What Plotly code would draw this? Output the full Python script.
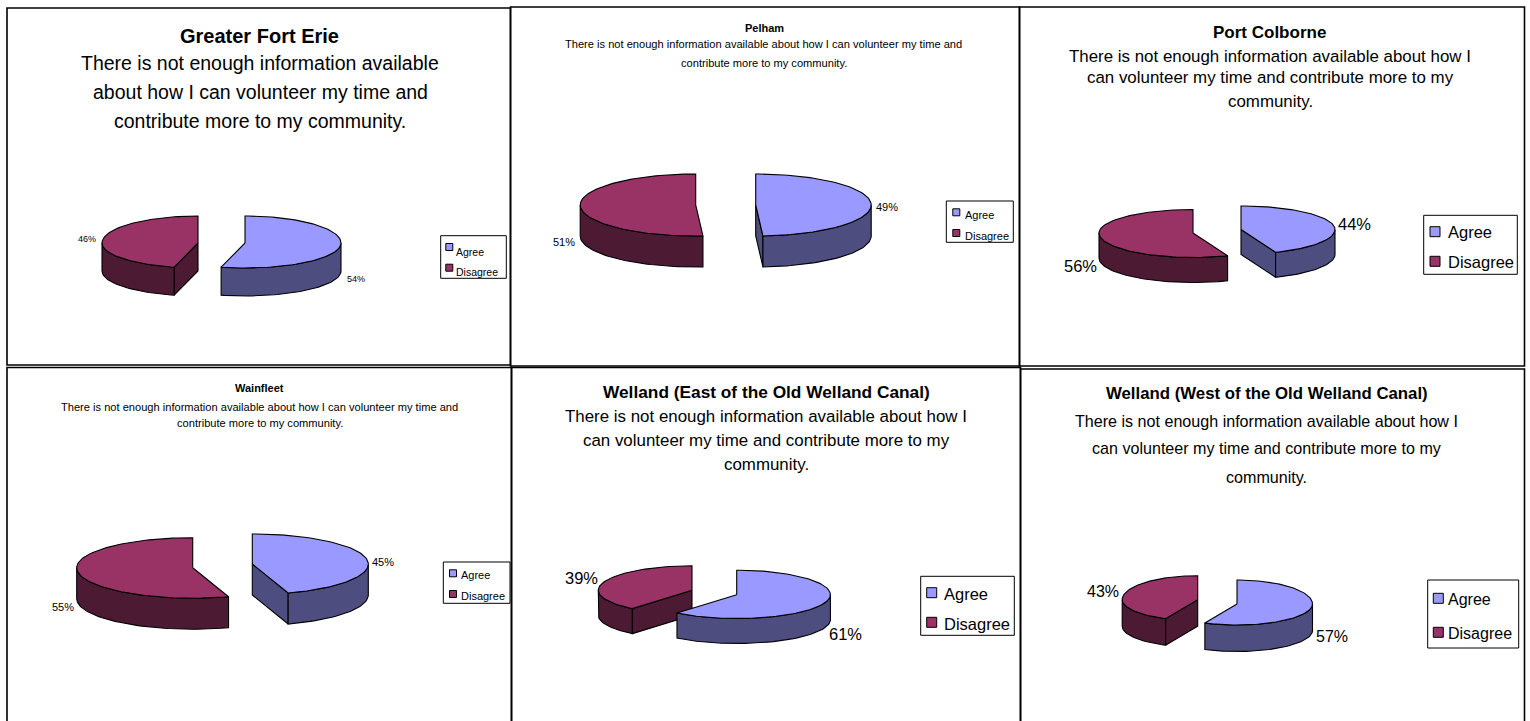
import math
import plotly.graph_objects as go

# ---- values ----
places = ["Greater Fort Erie", "Pelham", "Port Colborne", "Wainfleet",
          "Welland (East of the Old Welland Canal)", "Welland (West of the Old Welland Canal)"]
categories = ["Agree", "Disagree"]
agree = [54, 49, 44, 45, 61, 57]
disagree = [46, 51, 56, 55, 39, 43]
question_lines = [
    ["There is not enough information available", "about how I can volunteer my time and", "contribute more to my community."],
    ["There is not enough information available about how I can volunteer my time and", "contribute more to my community."],
    ["There is not enough information available about how I", "can volunteer my time and contribute more to my", "community."],
    ["There is not enough information available about how I can volunteer my time and", "contribute more to my community."],
    ["There is not enough information available about how I", "can volunteer my time and contribute more to my", "community."],
    ["There is not enough information available about how I", "can volunteer my time and contribute more to my", "community."],
]

# ---- styles and layout ----
TOP = {"Agree": "#9999FF", "Disagree": "#993366"}
SIDE = {"Agree": "#4D4D80", "Disagree": "#4D1A33"}
FONT = "Liberation Sans, Arial, sans-serif"
W, H = 1530, 721

frames = [(7, 8, 510.5, 365), (510.5, 7, 1019.5, 366), (1019.5, 7, 1524.5, 366),
          (7, 367.5, 511.5, 730), (511.5, 367.5, 1020.5, 730), (1020.5, 369, 1524.5, 730)]
# agree centre x,y; disagree centre x,y; rx; back ry; front ry; depth
pies = [(245, 243, 198, 243, 96, 27, 25, 28),
        (755.7, 205, 695.7, 205, 115.5, 31, 31, 31),
        (1241, 229.5, 1193, 233, 94, 23.5, 24.5, 25),
        (252.3, 564, 192.7, 567.7, 116, 30, 30.5, 31),
        (736.7, 594.7, 692, 590.3, 93.7, 24.5, 23.8, 25),
        (1237, 604, 1197.7, 599.7, 75.5, 24, 21, 26.5)]
title_style = [(259.3, 35.7, 20), (764, 28.3, 11), (1269, 32.3, 17),
               (259, 388.3, 11), (766.7, 392.3, 17.3), (1267.3, 393.3, 16.8)]
line_x = [260, 763.7, 1270, 259.7, 766, 1266.7]
line_y = [[62.7, 91.7, 120.7], [44.3, 63.3], [56, 77.7, 101.7],
          [407.3, 423.3], [416, 440.3, 464.7], [420.7, 448, 477]]
line_size = [19.5, 11.1, 16.9, 11.1, 16.9, 16.1]
label_pos = [((355.7, 279.3), (86.7, 239.3)), ((887.3, 207.3), (564.3, 242.3)),
             ((1354.7, 224.3), (1080, 266)), ((383.3, 562), (63.3, 607.3)),
             ((845, 634.3), (581.3, 578.3)), ((1332.3, 636.7), (1103, 591))]
label_size = [9, 11, 16.5, 11, 16.5, 16]
legend_box = [(440.7, 235.7, 506.3, 278.3), (946.3, 201, 1013.3, 242.3),
              (1423.7, 215.3, 1517.3, 274.3), (443.3, 562, 510, 603.3),
              (920.7, 576.3, 1014.3, 635.3), (1427.7, 580, 1518.7, 648)]
swatch_x = [449.3, 956.3, 1435, 453, 931.7, 1438.3]
swatch_y = [(247, 267.7), (212.3, 233), (231.7, 261.3), (573.3, 594), (592.7, 622.3), (598.3, 632.3)]
swatch_size = [7, 7, 10, 7, 10, 10]
legend_x = [455, 964.3, 1447.3, 460.3, 943.3, 1447.3]
legend_y = [(252, 271.7), (215.3, 236), (232, 261.5), (575.3, 596), (594.3, 624.3), (599.7, 633.7)]
legend_size = [10.5, 11, 16.5, 11, 16.5, 16]


def point(cx, cy, rx, ry_back, ry_front, deg):
    t = math.radians(deg)
    c = math.cos(t)
    return cx + rx * math.sin(t), cy - (ry_back if c > 0 else ry_front) * c


def arc(cx, cy, rx, ry_back, ry_front, a0, a1):
    n = max(2, int(abs(a1 - a0) / 2) + 1)
    pts = [point(cx, cy, rx, ry_back, ry_front, a0 + (a1 - a0) * i / (n - 1)) for i in range(n)]
    return [p[0] for p in pts], [p[1] for p in pts]


def poly(fig, xs, ys, color):
    fig.add_trace(go.Scatter(x=xs + xs[:1], y=ys + ys[:1], mode="lines", fill="toself",
                             fillcolor=color, line=dict(color="#000000", width=1.1),
                             hoverinfo="skip", showlegend=False))


def slice3d(fig, cx, cy, rx, ryb, ryf, depth, a0, a1, name):
    # radial cut face at the boundary between the two slices
    if (name == "Agree" and a1 < 180) or (name == "Disagree" and a0 > 180):
        ang = a1 if name == "Agree" else a0
        vx, vy = point(cx, cy, rx, ryb, ryf, ang)
        poly(fig, [cx, vx, vx, cx], [cy, vy, vy + depth, cy + depth], SIDE[name])
    # outer rim on the front half
    r0, r1 = max(a0, 90), min(a1, 270)
    if r1 > r0:
        xs, ys = arc(cx, cy, rx, ryb, ryf, r0, r1)
        poly(fig, xs + xs[::-1], ys + [y + depth for y in ys[::-1]], SIDE[name])
    # top face
    xs, ys = arc(cx, cy, rx, ryb, ryf, a0, a1)
    poly(fig, [cx] + xs, [cy] + ys, TOP[name])


fig = go.Figure()
ann = []
shapes = []


def text(x, y, s, size, bold=False, anchor="center"):
    ann.append(dict(x=x, y=y, xref="x", yref="y", text=f"<b>{s}</b>" if bold else s, showarrow=False,
                    xanchor=anchor, yanchor="middle", borderpad=0,
                    font=dict(family=FONT, size=size, color="#000000")))


for i, place in enumerate(places):
    x0, y0, x1, y1 = frames[i]
    shapes.append(dict(type="rect", xref="x", yref="y", x0=x0, y0=y0, x1=x1, y1=y1,
                       line=dict(color="#000000", width=1.6), fillcolor="rgba(0,0,0,0)", layer="below"))
    ax, ay, dx, dy, rx, ryb, ryf, depth = pies[i]
    split = 360 * agree[i] / (agree[i] + disagree[i])
    slice3d(fig, dx, dy, rx, ryb, ryf, depth, split, 360, "Disagree")
    slice3d(fig, ax, ay, rx, ryb, ryf, depth, 0, split, "Agree")

    tx, ty, ts = title_style[i]
    text(tx, ty, place, ts, bold=True)
    for line, ly in zip(question_lines[i], line_y[i]):
        text(line_x[i], ly, line, line_size[i])

    for (lx, ly), v in zip(label_pos[i], (agree[i], disagree[i])):
        text(lx, ly, f"{v}%", label_size[i])

    bx0, by0, bx1, by1 = legend_box[i]
    shapes.append(dict(type="rect", xref="x", yref="y", x0=bx0, y0=by0, x1=bx1, y1=by1,
                       line=dict(color="#000000", width=1), fillcolor="#FFFFFF"))
    half = swatch_size[i] / 2
    for k, cat in enumerate(categories):
        sy = swatch_y[i][k]
        shapes.append(dict(type="rect", xref="x", yref="y", x0=swatch_x[i] - half, x1=swatch_x[i] + half,
                           y0=sy - half, y1=sy + half, fillcolor=TOP[cat],
                           line=dict(color="#000000", width=1)))
        text(legend_x[i], legend_y[i][k], cat, legend_size[i], anchor="left")

fig.update_layout(
    width=W, height=H, margin=dict(l=0, r=0, t=0, b=0), autosize=False,
    paper_bgcolor="#FFFFFF", plot_bgcolor="#FFFFFF", showlegend=False,
    xaxis=dict(range=[0, W], visible=False, fixedrange=True),
    yaxis=dict(range=[H, 0], visible=False, fixedrange=True),
    annotations=ann, shapes=shapes,
)
fig.write_html("out.html", config={"displayModeBar": False},
               post_script="document.body.style.margin='0';document.body.style.overflow='hidden';")
